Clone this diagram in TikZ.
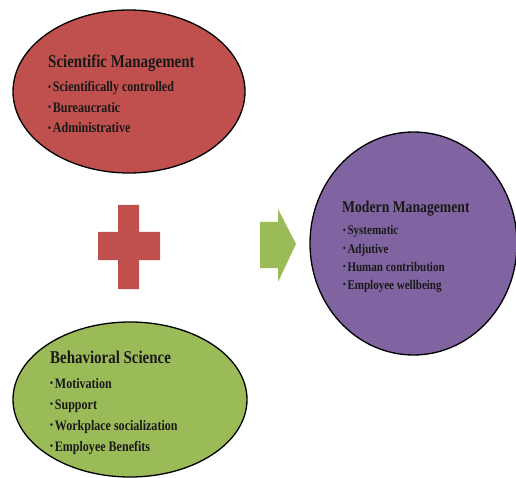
\documentclass[tikz,border=0pt]{standalone}
\usepackage{fontspec}
\setmainfont{Liberation Serif}[FakeStretch=0.83]
\usetikzlibrary{shapes.geometric}
\definecolor{ored}{HTML}{C0504D}
\definecolor{ogreen}{HTML}{9BBB59}
\definecolor{opurple}{HTML}{8064A2}
\newcommand{\mybul}{\raisebox{0.12em}{\scalebox{0.7}{\textbullet}}\kern0.12em}
\begin{document}
\begin{tikzpicture}[x=1pt,y=-1pt,
  blob/.style={ellipse, draw=black, line width=1.3pt, inner sep=0pt},
  ttl/.style={anchor=base west, inner sep=0pt, text=black!90, font=\bfseries\fontsize{18}{18}\selectfont},
  itm/.style={anchor=base west, inner sep=0pt, text=black!90, font=\bfseries\fontsize{14.5}{14.5}\selectfont},
  mttl/.style={ttl, font=\bfseries\fontsize{16.5}{16.5}\selectfont},
  mitm/.style={itm, font=\bfseries\fontsize{13.3}{13.3}\selectfont}]
\useasboundingbox (0,0) rectangle (516,478);
% ellipses
\node[blob, fill=ored, minimum width=232pt, minimum height=163pt] (sci) at (129,91.5) {};
\node[blob, fill=ogreen, minimum width=234pt, minimum height=155pt] (beh) at (130,399.5) {};
\node[blob, fill=opurple, minimum width=207pt, minimum height=223pt] (mod) at (413.5,243.5) {};
% plus sign
\fill[ored] (118,205) -- (139,205) -- (139,232) -- (160,232) -- (160,260) -- (139,260)
  -- (139,289) -- (118,289) -- (118,260) -- (98,260) -- (98,232) -- (118,232) -- cycle;
% arrow
\fill[ogreen] (260,222) -- (278,222) -- (278,209) -- (296,244) -- (278,282) -- (278,268) -- (260,268) -- cycle;
% texts: scientific
\node[ttl] (s0) at (48,68) {Scientific Management};
\node[itm] (s1) at (48,92) {\mybul Scientifically controlled};
\node[itm] (s2) at (48,112.5) {\mybul Bureaucratic};
\node[itm] (s3) at (48,133) {\mybul Administrative};
% behavioral
\node[ttl] (b0) at (50,363) {Behavioral Science};
\node[itm] (b1) at (50,388) {\mybul Motivation};
\node[itm] (b2) at (50,409.5) {\mybul Support};
\node[itm] (b3) at (50,430.5) {\mybul Workplace socialization};
\node[itm] (b4) at (50,451) {\mybul Employee Benefits};
% modern
\node[mttl] (m0) at (342,212.5) {Modern Management};
\node[mitm] (m1) at (343,235) {\mybul Systematic};
\node[mitm] (m2) at (343,253.5) {\mybul Adjutive};
\node[mitm] (m3) at (343,271.5) {\mybul Human contribution};
\node[mitm] (m4) at (343,289.5) {\mybul Employee wellbeing};
\end{tikzpicture}
\end{document}
